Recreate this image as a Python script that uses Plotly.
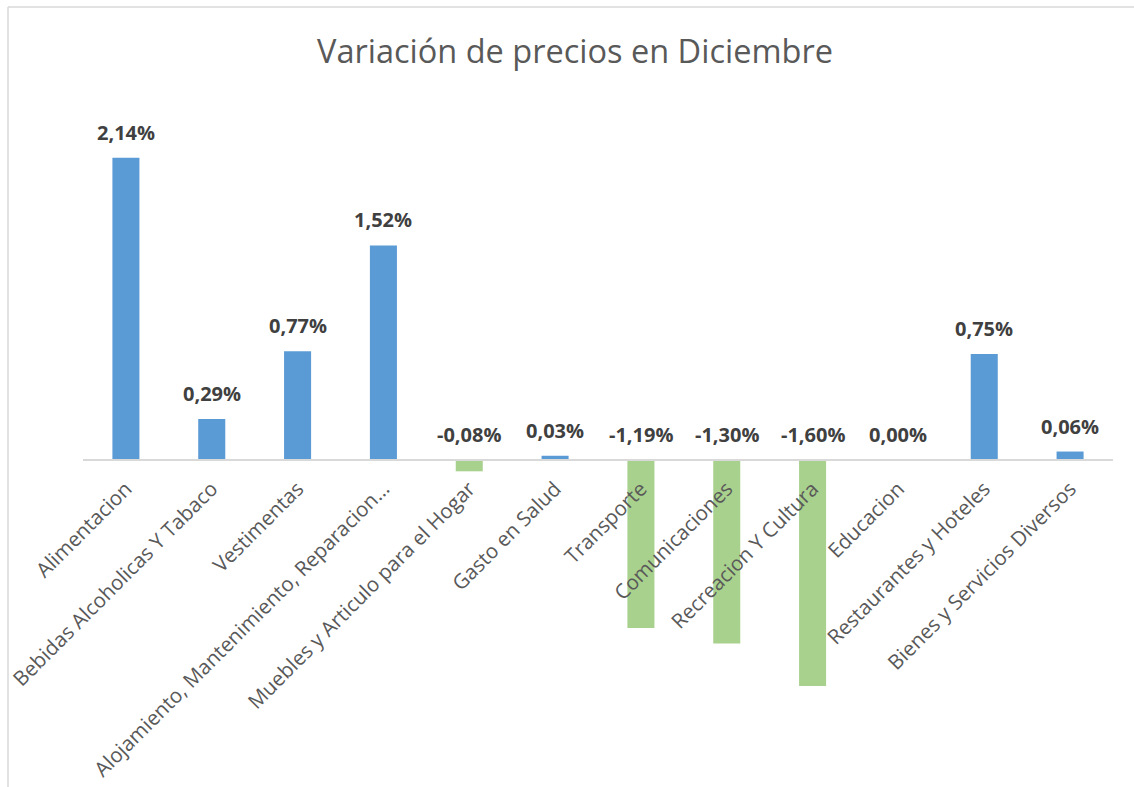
import plotly.graph_objects as go

categories = [
    "Alimentacion",
    "Bebidas Alcoholicas Y Tabaco",
    "Vestimentas",
    "Alojamiento, Mantenimiento, Reparacion…",
    "Muebles y Articulo para el Hogar",
    "Gasto en Salud",
    "Transporte",
    "Comunicaciones",
    "Recreacion Y Cultura",
    "Educacion",
    "Restaurantes y Hoteles",
    "Bienes y Servicios Diversos",
]
values = [2.14, 0.29, 0.77, 1.52, -0.08, 0.03, -1.19, -1.30, -1.60, 0.00, 0.75, 0.06]

BLUE = "#5B9BD5"
GREEN = "#A9D18E"

W, H = 1134, 787
L, R, T, B = 83, 21, 100, 17
ymin, ymax = -2.1955, 2.5496
zero_pos = (0 - ymin) / (ymax - ymin)
plot_w = W - L - R
plot_h = H - T - B

colors = [BLUE if v >= 0 else GREEN for v in values]
labels = [f"{v:.2f}".replace(".", ",") + "%" for v in values]

fig = go.Figure()
fig.add_trace(go.Bar(
    x=categories, y=values, marker=dict(color=colors, line=dict(width=0)),
    hoverinfo="x+y", showlegend=False,
))

for c, v, t in zip(categories, values, labels):
    fig.add_annotation(
        x=c, y=max(v, 0), text=t, showarrow=False, yanchor="bottom",
        yshift=10, font=dict(family="Open Sans", size=20, color="#404040", weight="bold"),
    )

def px_x(p):
    return (p - L) / plot_w

def px_y(p):
    return (H - B - p) / plot_h

fig.add_shape(type="line", xref="paper", yref="paper",
              x0=px_x(8), x1=px_x(8), y0=px_y(7), y1=px_y(H),
              line=dict(color="#D9D9D9", width=1.5))
fig.add_shape(type="line", xref="paper", yref="paper",
              x0=px_x(8), x1=px_x(W), y0=px_y(7), y1=px_y(7),
              line=dict(color="#D9D9D9", width=1.5))

fig.update_layout(
    width=W, height=H,
    margin=dict(l=L, r=R, t=T, b=B, autoexpand=False),
    paper_bgcolor="white", plot_bgcolor="white",
    bargap=0.685,
    title=dict(text="Variación de precios en Diciembre", x=575 / W, xanchor="center",
               y=1 - 52 / H, yanchor="middle", automargin=False,
               font=dict(family="Open Sans", size=32.5, color="#595959")),
    xaxis=dict(anchor="free", position=zero_pos, showline=True, linecolor="#D9D9D9",
               linewidth=1.5, tickangle=-45, ticks="", showgrid=False,
               ticklabelstandoff=8, automargin=False,
               tickfont=dict(family="Open Sans", size=20.5, color="#595959"),
               layer="above traces"),
    yaxis=dict(range=[ymin, ymax], visible=False, showgrid=False, zeroline=False,
               automargin=False),
)

fig.write_html("out.html")
